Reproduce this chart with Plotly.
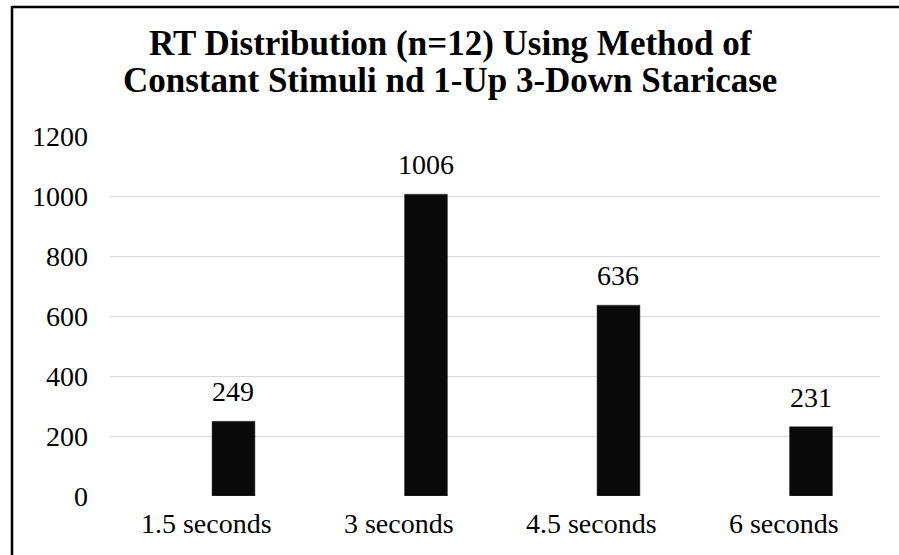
import plotly.graph_objects as go

# Response-time counts per stimulus interval
categories = ["1.5 seconds", "3 seconds", "4.5 seconds", "6 seconds"]
counts = [249, 1006, 636, 231]
y_ticks = [0, 200, 400, 600, 800, 1000, 1200]

title_lines = [
    "RT Distribution (n=12) Using Method of",
    "Constant Stimuli nd 1-Up 3-Down Staricase",
]

FONT = "Liberation Serif"
W, H = 899, 555
M_L, M_R, M_T, M_B = 110, 19, 136, 59
PLOT_H = H - M_T - M_B
PLOT_W = W - M_L - M_R


def px_to_paper_x(px):
    return (px - M_L) / PLOT_W


def px_to_paper_y(py):
    return (H - M_B - py) / PLOT_H


BAR_W = 0.223
BAR_OFF = 0.03

fig = go.Figure()
fig.add_trace(go.Bar(
    x=categories,
    y=counts,
    width=BAR_W,
    offset=BAR_OFF,
    marker=dict(color="#0a0a0a", line=dict(color="#3a3a3a", width=0.5)),
    hoverinfo="x+y",
))

# value labels centred over each bar
label_shift = (BAR_OFF + BAR_W / 2) * PLOT_W / len(categories)
for cat, val in zip(categories, counts):
    fig.add_annotation(
        x=cat, y=val, xref="x", yref="y",
        text=str(val), showarrow=False,
        xanchor="center", yanchor="bottom",
        xshift=label_shift, yshift=12,
        font=dict(family=FONT, size=28, color="#000000"),
    )

# two-line bold title
for text, py in zip(title_lines, [43.5, 80.5]):
    fig.add_annotation(
        x=px_to_paper_x(450), y=px_to_paper_y(py),
        xref="paper", yref="paper",
        text=f"<b>{text}</b>", showarrow=False,
        xanchor="center", yanchor="middle",
        font=dict(family=FONT, size=35, color="#000000"),
    )

# frame lines along the top and left edges
fig.add_shape(type="line", xref="paper", yref="paper",
              x0=px_to_paper_x(12), x1=px_to_paper_x(W + 5),
              y0=px_to_paper_y(7), y1=px_to_paper_y(7),
              line=dict(color="#000000", width=2.5))
fig.add_shape(type="line", xref="paper", yref="paper",
              x0=px_to_paper_x(12), x1=px_to_paper_x(12),
              y0=px_to_paper_y(6), y1=px_to_paper_y(H + 5),
              line=dict(color="#000000", width=2.5))

fig.update_layout(
    width=W, height=H, autosize=False,
    margin=dict(l=M_L, r=M_R, t=M_T, b=M_B, pad=0),
    paper_bgcolor="#ffffff", plot_bgcolor="#ffffff",
    showlegend=False,
    font=dict(family=FONT, size=28, color="#000000"),
    xaxis=dict(
        type="category", showgrid=False, zeroline=False, showline=False,
        ticks="", ticklabelstandoff=8,
        tickfont=dict(family=FONT, size=28, color="#000000"),
    ),
    yaxis=dict(
        range=[0, 1200], tickvals=y_ticks, showgrid=True,
        gridcolor="#d9d9d9", gridwidth=1.3, zeroline=False, showline=False,
        ticks="", ticklabelstandoff=21,
        tickfont=dict(family=FONT, size=28, color="#000000"),
    ),
)

fig.write_html("out.html")
